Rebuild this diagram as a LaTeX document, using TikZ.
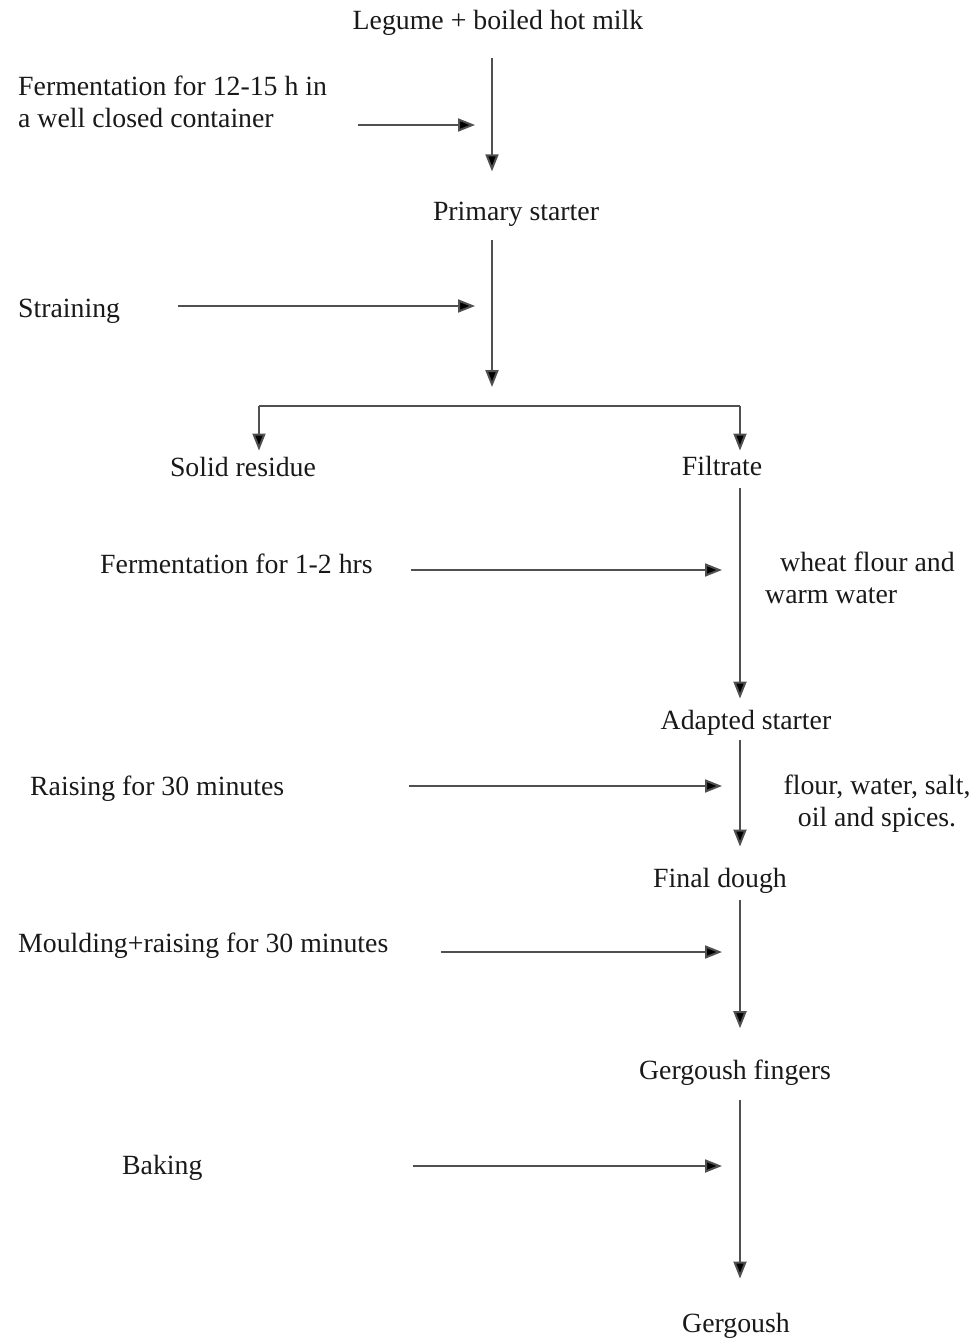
\documentclass[tikz,border=0pt]{standalone}
\usepackage{fontspec}
\setmainfont{Liberation Serif}
\usetikzlibrary{arrows.meta}
\definecolor{cTEXT}{RGB}{25,25,25}
\definecolor{cLINE}{RGB}{80,80,80}
\tikzset{
  lbl/.style={inner sep=0pt,text=cTEXT,font=\fontsize{27.8}{32}\selectfont,anchor=base},
  side/.style={lbl,anchor=base west,align=left},
  flow/.style={draw=cLINE,line width=2pt,-{Triangle[length=17pt,width=13pt,fill=black]}},
  line/.style={draw=cLINE,line width=2pt}
}
\begin{document}
\begin{tikzpicture}[x=1pt,y=-1pt]
\useasboundingbox (0,0) rectangle (978,1340);
\coordinate (axis) at (492,0);
\coordinate (spine) at (740,0);
\coordinate (fork) at (492,406);
\coordinate (forkL) at (259,406);
\coordinate (forkR) at (740,406);
\coordinate (t1) at (475,125);
\coordinate (t2) at (475,306);
\coordinate (t3) at (722,570);
\coordinate (t4) at (722,786);
\coordinate (t5) at (722,952);
\coordinate (t6) at (722,1166);
\node[lbl] (legume) at (498,30) {Legume + boiled hot milk};
\node[side] (ferm12) at (18,128) {Fermentation for 12-15 h in\\a well closed container};
\node[lbl] (primary) at (516,221) {Primary starter};
\node[side] (strain) at (18,317) {Straining};
\node[lbl] (solid) at (243,476) {Solid residue};
\node[lbl] (filtrate) at (722,475) {Filtrate};
\node[side] (ferm1) at (100,573) {Fermentation for 1-2 hrs};
\node[side] (wheat) at (765,603) {\hspace*{15pt}wheat flour and\\warm water};
\node[lbl] (adapted) at (746,729) {Adapted starter};
\node[side] (raising) at (30,795) {Raising for 30 minutes};
\node[lbl,align=center] (flour) at (877,826) {flour, water, salt,\\oil and spices.};
\node[lbl] (final) at (720,887) {Final dough};
\node[side] (mould) at (18,952) {Moulding+raising for 30 minutes};
\node[lbl] (fingers) at (735,1079) {Gergoush fingers};
\node[side] (baking) at (122,1174) {Baking};
\node[lbl] (gergoush) at (736,1332) {Gergoush};
\draw[flow,shorten <=22pt,shorten >=31pt] (legume.south -| axis) -- (primary.north -| axis);
\draw[flow,shorten <=13pt,shorten >=19pt] (primary.south -| axis) -- (fork);
\draw[line] (forkL) -- (forkR);
\draw[flow,shorten >=6pt] (forkL) -- (solid.north -| forkL);
\draw[flow,shorten >=5pt] (forkR) -- (filtrate.north -| forkR);
\draw[flow,shorten <=13pt,shorten >=11pt] (filtrate.south -| spine) -- (adapted.north -| spine);
\draw[flow,shorten <=5pt,shorten >=21pt] (adapted.south -| spine) -- (final.north -| spine);
\draw[flow,shorten <=7pt,shorten >=31pt] (final.south -| spine) -- (fingers.north -| spine);
\draw[flow,shorten <=15pt,shorten >=34pt] (fingers.south -| spine) -- (gergoush.north -| spine);
\draw[flow,shorten <=31pt] (ferm12.east |- t1) -- (t1);
\draw[flow,shorten <=58pt] (strain.east |- t2) -- (t2);
\draw[flow,shorten <=38pt] (ferm1.east |- t3) -- (t3);
\draw[flow,shorten <=125pt] (raising.east |- t4) -- (t4);
\draw[flow,shorten <=52pt] (mould.east |- t5) -- (t5);
\draw[flow,shorten <=210pt] (baking.east |- t6) -- (t6);
\end{tikzpicture}
\end{document}
